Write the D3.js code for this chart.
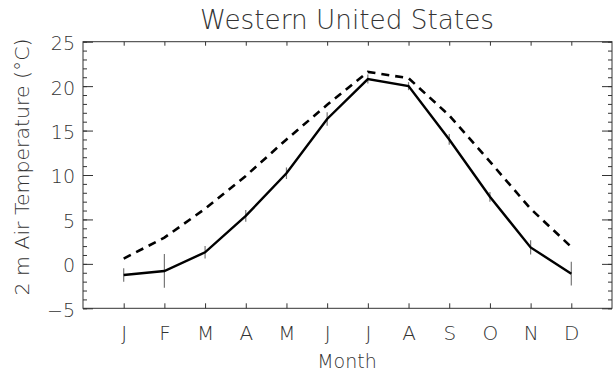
<!DOCTYPE html>
<html>
<head>
<meta charset="utf-8">
<script src="https://cdn.jsdelivr.net/npm/d3@7"></script>
<style>
  html, body { margin: 0; padding: 0; background: #fff; }
  svg { display: block; }
  text { font-family: "DejaVu Sans", sans-serif; font-weight: 200; fill: #333; }
</style>
</head>
<body>
<svg id="chart" width="613" height="375"></svg>
<script>
// Monthly 2 m air temperature, Western United States
const months = ["J", "F", "M", "A", "M", "J", "J", "A", "S", "O", "N", "D"];
const monthIndex = [1, 2, 3, 4, 5, 6, 7, 8, 9, 10, 11, 12];
const solidValues = [-1.25, -0.8, 1.3, 5.4, 10.2, 16.3, 20.8, 20.0, 14.0, 7.55, 1.85, -1.1];
const solidSpread = [0.75, 1.9, 0.7, 0.65, 0.65, 0.75, 0.5, 0.45, 0.6, 0.55, 0.8, 1.33];
const dashedValues = [0.6, 2.95, 6.2, 9.9, 14.0, 17.9, 21.6, 20.9, 16.7, 11.5, 6.2, 1.9];
const yMajorTicks = [-5, 0, 5, 10, 15, 20, 25];
const yMinorTicks = d3.range(-5, 26, 1);

const svg = d3.select("#chart");
const plotLeft = 83, plotRight = 612, plotTop = 41.7, plotBottom = 308.3;

const x = d3.scaleLinear().domain([0, 13]).range([plotLeft, plotRight]);
const y = d3.scaleLinear().domain([-5, 25]).range([plotBottom, plotTop]);

const axisColor = "#333";
const textColor = "#333";

// Plot frame
svg.append("rect")
  .attr("x", plotLeft).attr("y", plotTop)
  .attr("width", plotRight - plotLeft).attr("height", plotBottom - plotTop)
  .attr("fill", "none").attr("stroke", axisColor).attr("stroke-width", 1);

function styleAxis(g) {
  g.select(".domain").remove();
  g.selectAll(".tick line").attr("stroke", axisColor).attr("stroke-width", 1);
}

// Left axis: minor ticks, then major ticks with labels
svg.append("g").attr("transform", `translate(${plotLeft},0)`)
  .call(d3.axisLeft(y).tickValues(yMinorTicks).tickSize(-4).tickFormat(""))
  .call(styleAxis);
svg.append("g").attr("transform", `translate(${plotLeft},0)`)
  .call(d3.axisLeft(y).tickValues(yMajorTicks).tickSize(-10).tickPadding(8)
    .tickFormat(d => d < 0 ? "\u2212" + Math.abs(d) : d))
  .call(styleAxis)
  .call(g => g.selectAll("text")
    .attr("font-size", 19).attr("font-family", "DejaVu Sans").attr("font-weight", 200)
    .attr("fill", textColor).attr("dy", "0.42em"));

// Right axis ticks
svg.append("g").attr("transform", `translate(${plotRight},0)`)
  .call(d3.axisRight(y).tickValues(yMinorTicks).tickSize(-4).tickFormat(""))
  .call(styleAxis);
svg.append("g").attr("transform", `translate(${plotRight},0)`)
  .call(d3.axisRight(y).tickValues(yMajorTicks).tickSize(-10).tickFormat(""))
  .call(styleAxis);

// Top axis ticks
svg.append("g").attr("transform", `translate(0,${plotTop})`)
  .call(d3.axisTop(x).tickValues(monthIndex).tickSize(-4).tickFormat(""))
  .call(styleAxis);

// Bottom axis with month letters
svg.append("g").attr("transform", `translate(0,${plotBottom})`)
  .call(d3.axisBottom(x).tickValues(monthIndex).tickSize(-5).tickPadding(18)
    .tickFormat((d, i) => months[i]))
  .call(styleAxis)
  .call(g => g.selectAll("text")
    .attr("font-size", 20).attr("font-family", "DejaVu Sans").attr("font-weight", 200)
    .attr("fill", textColor));

// Spread bars around the solid curve
svg.append("g").selectAll("line")
  .data(monthIndex)
  .join("line")
  .attr("x1", d => x(d)).attr("x2", d => x(d))
  .attr("y1", (d, i) => y(solidValues[i] + solidSpread[i]))
  .attr("y2", (d, i) => y(solidValues[i] - solidSpread[i]))
  .attr("stroke", "#777").attr("stroke-width", 1.2);

const line = d3.line().x(d => x(d[0])).y(d => y(d[1]));

svg.append("path")
  .datum(monthIndex.map((m, i) => [m, dashedValues[i]]))
  .attr("d", line)
  .attr("fill", "none").attr("stroke", "#000").attr("stroke-width", 2.6)
  .attr("stroke-dasharray", "8,6");

svg.append("path")
  .datum(monthIndex.map((m, i) => [m, solidValues[i]]))
  .attr("d", line)
  .attr("fill", "none").attr("stroke", "#000").attr("stroke-width", 2.4)
  .attr("stroke-linejoin", "miter");

// Titles
svg.append("text")
  .attr("x", 347).attr("y", 29)
  .attr("text-anchor", "middle").attr("font-size", 26)
  .attr("textLength", 294).attr("lengthAdjust", "spacingAndGlyphs")
  .text("Western United States");

svg.append("text")
  .attr("x", 347).attr("y", 368)
  .attr("text-anchor", "middle").attr("font-size", 19)
  .text("Month");

svg.append("text")
  .attr("transform", "translate(29,167) rotate(-90)")
  .attr("text-anchor", "middle").attr("font-size", 20)
  .attr("textLength", 257).attr("lengthAdjust", "spacingAndGlyphs")
  .text("2 m Air Temperature (\u00B0C)");
</script>
</body>
</html>
